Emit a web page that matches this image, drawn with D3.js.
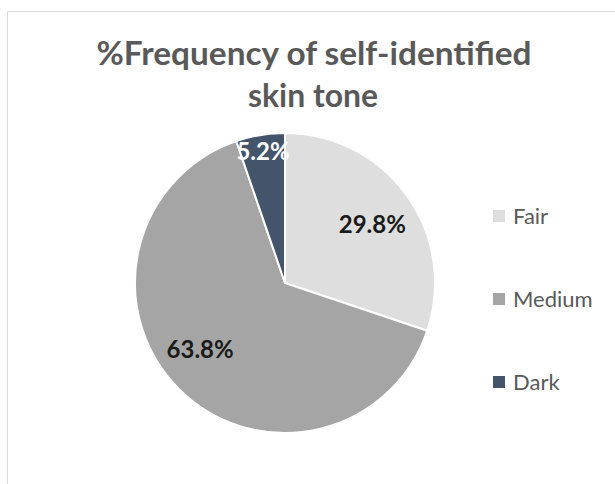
<!DOCTYPE html>
<html><head><meta charset="utf-8">
<script src="https://cdn.jsdelivr.net/npm/d3@7"></script>
<style>body{margin:0;background:#fff;}svg{display:block;}</style>
</head><body>
<svg id="c" width="615" height="484"></svg>
<script>
const categories = ["Fair", "Medium", "Dark"];
const values = [29.8, 63.8, 5.2];
const labels = ["29.8%", "63.8%", "5.2%"];
const colors = ["#dedede", "#a5a5a5", "#44546a"];
const labelColors = ["#1a1a1a", "#1a1a1a", "#ffffff"];

const svg = d3.select("#c");
const font = "Lato, 'Open Sans', sans-serif";

// chart frame
svg.append("path").attr("d", "M7.5,484 L7.5,11.5 L615,11.5")
  .attr("fill", "none").attr("stroke", "#d9d9d9").attr("stroke-width", 1);

// title
const title = svg.append("text").attr("text-anchor", "middle")
  .attr("font-family", font).attr("font-weight", "bold").attr("font-size", 33)
  .attr("fill", "#595959");
title.append("tspan").attr("x", 314).attr("y", 65).text("%Frequency of self-identified")
  .attr("textLength", 435).attr("lengthAdjust", "spacingAndGlyphs");
title.append("tspan").attr("x", 313).attr("y", 107).text("skin tone")
  .attr("textLength", 130).attr("lengthAdjust", "spacingAndGlyphs");

const cx = 285, cy = 283, r = 150;
const pie = d3.pie().sort(null).value(d => d.v);
const data = pie(categories.map((c, i) => ({c, v: values[i], i})));
const arc = d3.arc().innerRadius(0).outerRadius(r);
const g = svg.append("g").attr("transform", `translate(${cx},${cy})`);
g.selectAll("path").data(data).join("path")
  .attr("d", arc).attr("fill", d => colors[d.data.i])
  .attr("stroke", "#fff").attr("stroke-width", 2).attr("stroke-linejoin", "round");

const labelRadius = [0.70, 0.72, 0.89];
const labelNudgeDeg = [2, 7, 0];
g.selectAll("text.lbl").data(data).join("text").attr("class", "lbl")
  .attr("transform", d => {
    const a = (d.startAngle + d.endAngle) / 2 + labelNudgeDeg[d.data.i] * Math.PI / 180;
    const rr = r * labelRadius[d.data.i];
    return `translate(${rr * Math.sin(a)},${-rr * Math.cos(a)})`;
  })
  .attr("text-anchor", "middle").attr("dy", "0.36em")
  .attr("font-family", font).attr("font-weight", "bold").attr("font-size", 24)
  .attr("fill", d => labelColors[d.data.i])
  .text(d => labels[d.data.i]);

// legend
const ly = d3.scalePoint().domain(categories).range([216, 382]);
const lg = svg.append("g");
lg.selectAll("rect").data(categories).join("rect")
  .attr("x", 493).attr("y", d => ly(d) - 6).attr("width", 12).attr("height", 12)
  .attr("fill", (d, i) => colors[i]);
lg.selectAll("text").data(categories).join("text")
  .attr("x", 513).attr("y", d => ly(d)).attr("dy", "0.36em")
  .attr("font-family", font).attr("font-size", 22).attr("fill", "#595959")
  .text(d => d);
</script>
</body></html>
